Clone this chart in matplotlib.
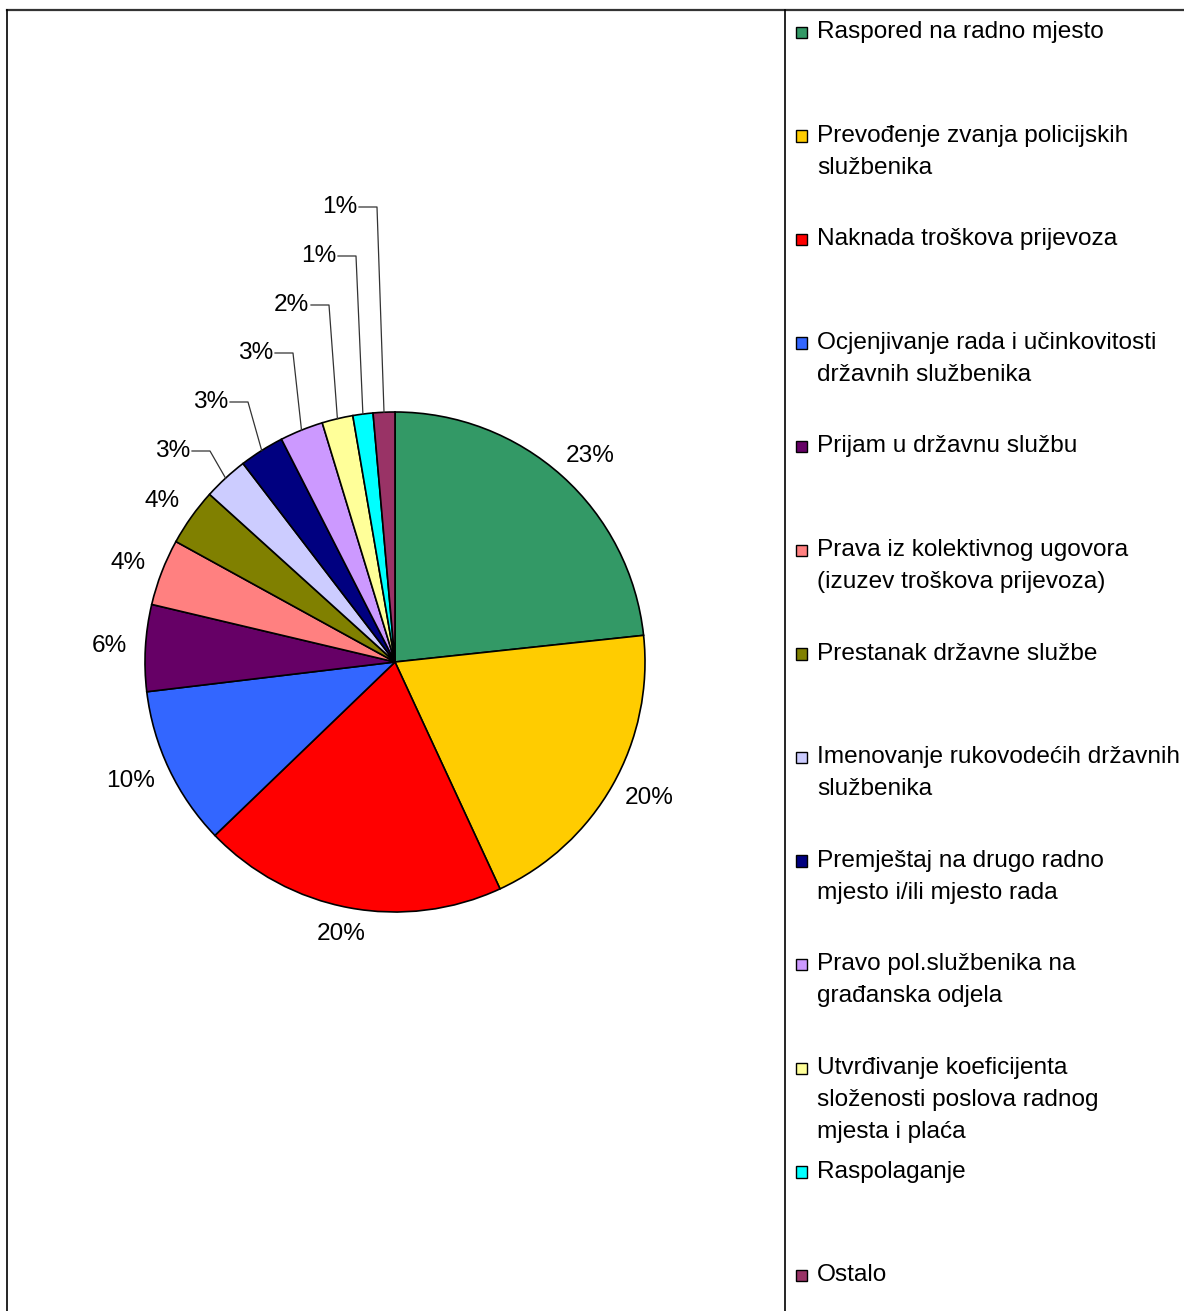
import numpy as np
import matplotlib
matplotlib.use("Agg")
import matplotlib.pyplot as plt
from matplotlib.patches import Rectangle

categories = [
    "Raspored na radno mjesto",
    "Prevođenje zvanja policijskih\nslužbenika",
    "Naknada troškova prijevoza",
    "Ocjenjivanje rada i učinkovitosti\ndržavnih službenika",
    "Prijam u državnu službu",
    "Prava iz kolektivnog ugovora\n(izuzev troškova prijevoza)",
    "Prestanak državne službe",
    "Imenovanje rukovodećih državnih\nslužbenika",
    "Premještaj na drugo radno\nmjesto i/ili mjesto rada",
    "Pravo pol.službenika na\ngrađanska odjela",
    "Utvrđivanje koeficijenta\nsloženosti poslova radnog\nmjesta i plaća",
    "Raspolaganje",
    "Ostalo",
]
values = [23.3, 19.8, 19.7, 10.3, 5.6, 4.3, 3.7, 2.9, 2.9, 2.8, 2.0, 1.3, 1.4]
colors = ["#339966", "#FFCC00", "#FF0000", "#3366FF", "#660066", "#FF8080",
          "#808000", "#CCCCFF", "#000080", "#CC99FF", "#FFFF99", "#00FFFF", "#993366"]

W, H = 1184, 1311
plt.rcParams['font.family'] = ['Liberation Sans', 'DejaVu Sans']
fig = plt.figure(figsize=(W / 100, H / 100), dpi=100)
ax = fig.add_axes([0, 0, 1, 1])

def Y(y):
    return H - y

cx, cy, R = 395, 662, 250
wedges, _ = ax.pie(values, colors=colors, startangle=90, counterclock=False,
                   radius=R, center=(cx, Y(cy)),
                   wedgeprops=dict(edgecolor='black', linewidth=1.2), frame=True)
ax.set_xlim(0, W)
ax.set_ylim(0, H)
ax.set_aspect('equal')
ax.axis('off')

fs = 17.6
total = sum(values)
ang = 90.0
mids = []
for v in values:
    span = v / total * 360
    mids.append(ang - span / 2)
    ang -= span

fig.canvas.draw()
renderer = fig.canvas.get_renderer()

n_big = 7
gap = 18
for i in range(n_big):
    a = np.deg2rad(mids[i])
    t = ax.text(0, 0, f"{values[i]:.0f}%", ha='center', va='center', fontsize=fs)
    bb = t.get_window_extent(renderer)
    w, h = bb.width, bb.height * 0.8
    px = cx + (R + gap) * np.cos(a) + w / 2 * np.cos(a)
    py = Y(cy) + (R + gap) * np.sin(a) + h / 2 * np.sin(a)
    t.set_position((px, py))

# small slices: labels with leader lines (layout positions)
elbow_x = [210, 248, 293, 329, 356, 377]
elbow_y = [451, 402, 353, 305, 256, 207]
for k, i in enumerate(range(n_big, len(values))):
    a = np.deg2rad(mids[i])
    ex, ey = cx + R * np.cos(a), Y(cy) + R * np.sin(a)
    bx, by = elbow_x[k], Y(elbow_y[k])
    ax.plot([bx - 18, bx, ex], [by, by, ey], color='#333333', lw=0.9)
    ax.text(bx - 20, by, f"{round(values[i]):.0f}%", ha='right', va='center', fontsize=fs)

# frame lines
ax.plot([7, W], [Y(10), Y(10)], color='#333333', lw=1.6, clip_on=False)
ax.plot([7, 7], [Y(10), 0], color='black', lw=1.2, clip_on=False)
ax.plot([785, 785], [Y(10), 0], color='black', lw=1.2, clip_on=False)

# legend drawn manually
y0, step, lh = 38, 103.6, 32
for i, (lab, c) in enumerate(zip(categories, colors)):
    base = y0 + i * step
    ax.add_patch(Rectangle((795.5, Y(base)), 11.5, 11.5, facecolor=c,
                           edgecolor='black', lw=1.0))
    for j, line in enumerate(lab.split("\n")):
        ax.text(817, Y(base + j * lh), line, ha='left', va='baseline', fontsize=fs)

fig.savefig("out.png", dpi=100)
